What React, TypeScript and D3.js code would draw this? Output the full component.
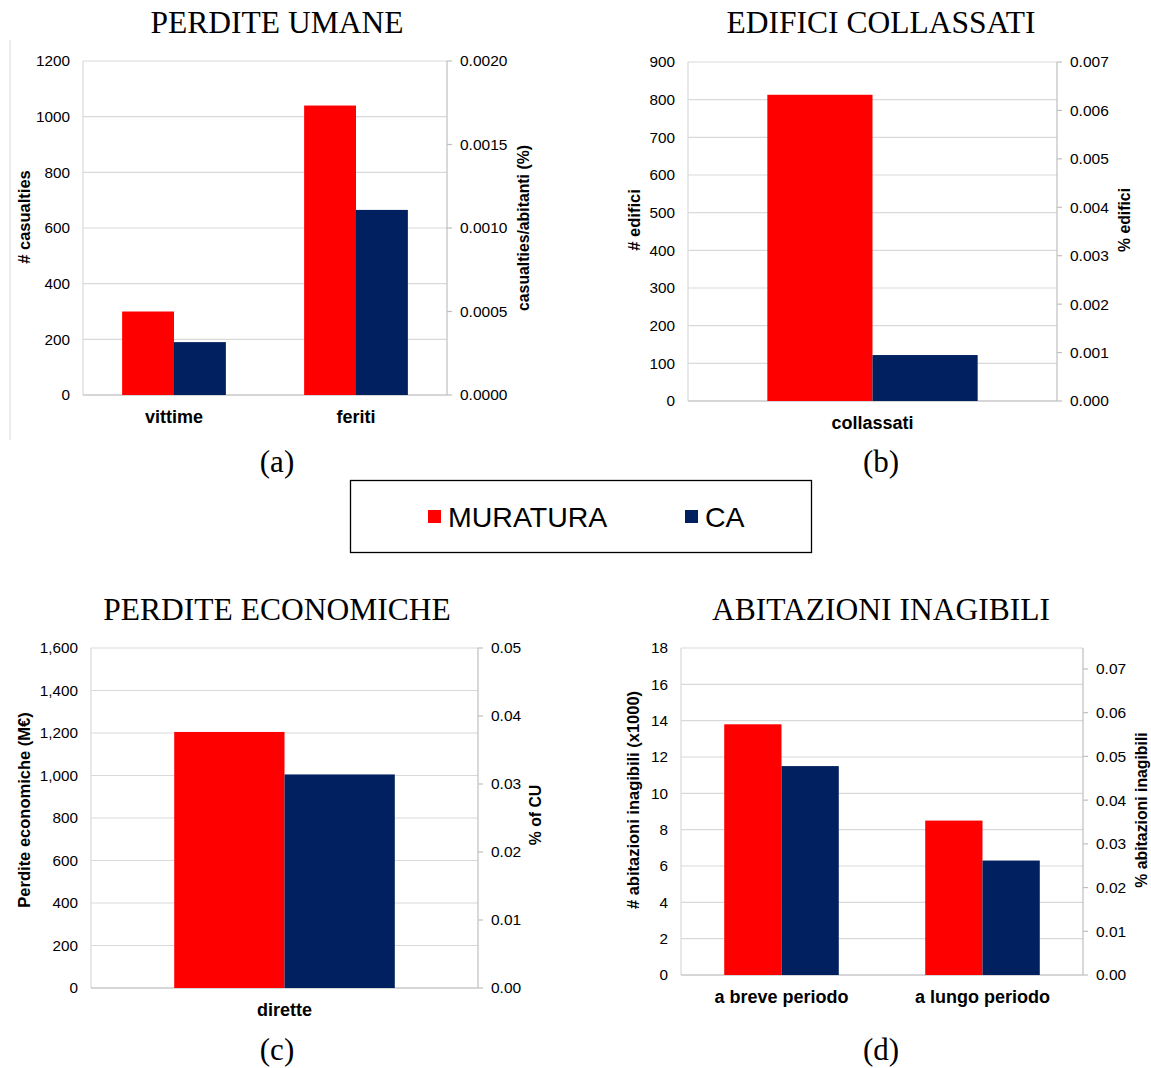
import React from "react";
import * as d3 from "d3";

// ---------- DATA ----------
const seriesNames = ["MURATURA", "CA"];
const seriesColors = ["#ff0000", "#002060"];

const umaneCategories = ["vittime", "feriti"];
const umaneMuratura = [300, 1040];
const umaneCA = [190, 665];
const umaneLeftTicks = [0, 200, 400, 600, 800, 1000, 1200];
const umaneRightTicks = [0, 0.0005, 0.001, 0.0015, 0.002];

const edificiCategories = ["collassati"];
const edificiMuratura = [813];
const edificiCA = [122];
const edificiLeftTicks = [0, 100, 200, 300, 400, 500, 600, 700, 800, 900];
const edificiRightTicks = [0, 0.001, 0.002, 0.003, 0.004, 0.005, 0.006, 0.007];

const economicheCategories = ["dirette"];
const economicheMuratura = [1205];
const economicheCA = [1005];
const economicheLeftTicks = [0, 200, 400, 600, 800, 1000, 1200, 1400, 1600];
const economicheRightTicks = [0, 0.01, 0.02, 0.03, 0.04, 0.05];

const abitazioniCategories = ["a breve periodo", "a lungo periodo"];
const abitazioniMuratura = [13.8, 8.5];
const abitazioniCA = [11.5, 6.3];
const abitazioniLeftTicks = [0, 2, 4, 6, 8, 10, 12, 14, 16, 18];
const abitazioniRightTicks = [0, 0.01, 0.02, 0.03, 0.04, 0.05, 0.06, 0.07];
const abitazioniRightMax = 0.0748;

// ---------- PANEL ----------
type PanelProps = {
  title: string;
  caption: string;
  cx: number;
  titleY: number;
  captionY: number;
  left: number;
  right: number;
  top: number;
  bottom: number;
  categories: string[];
  series: number[][];
  leftTicks: number[];
  rightTicks: number[];
  rightMax: number;
  leftFormat: (n: number) => string;
  rightFormat: (n: number) => string;
  leftTitle: string;
  leftTitleX: number;
  leftTitleY: number;
  rightTitle: string;
  rightTitleX: number;
  rightTitleY: number;
};

const SANS = "'Liberation Sans', Arial, sans-serif";
const SERIF = "'Liberation Serif', 'Times New Roman', serif";

function Panel(p: PanelProps) {
  const yL = d3
    .scaleLinear()
    .domain([0, p.leftTicks[p.leftTicks.length - 1]])
    .range([p.bottom, p.top]);
  const yR = d3.scaleLinear().domain([0, p.rightMax]).range([p.bottom, p.top]);
  const x0 = d3
    .scaleBand<string>()
    .domain(p.categories)
    .range([p.left, p.right])
    .paddingInner(0.43)
    .paddingOuter(0.215);
  const x1 = d3
    .scaleBand<string>()
    .domain(seriesNames)
    .range([0, x0.bandwidth()])
    .padding(0);

  return (
    <g>
      <text
        x={p.cx}
        y={p.titleY}
        textAnchor="middle"
        fontFamily={SERIF}
        fontSize={31.5}
        fill="#000"
      >
        {p.title}
      </text>
      {/* gridlines */}
      {p.leftTicks.map((t) => (
        <line
          key={"g" + t}
          x1={p.left}
          x2={p.right}
          y1={yL(t)}
          y2={yL(t)}
          stroke="#d9d9d9"
          strokeWidth={1.2}
        />
      ))}
      {/* axis lines */}
      <line x1={p.left} x2={p.left} y1={p.top} y2={p.bottom} stroke="#d9d9d9" strokeWidth={1.2} />
      <line x1={p.right} x2={p.right} y1={p.top} y2={p.bottom} stroke="#bfbfbf" strokeWidth={1.2} />
      <line x1={p.left} x2={p.right} y1={p.bottom} y2={p.bottom} stroke="#bfbfbf" strokeWidth={1.2} />
      {/* bars */}
      {p.categories.map((c, ci) => (
        <g key={c} transform={`translate(${x0(c)},0)`}>
          {seriesNames.map((s, si) => (
            <rect
              key={s}
              x={x1(s)}
              y={yL(p.series[si][ci])}
              width={x1.bandwidth()}
              height={p.bottom - yL(p.series[si][ci])}
              fill={seriesColors[si]}
            />
          ))}
        </g>
      ))}
      {/* left tick labels */}
      {p.leftTicks.map((t) => (
        <text
          key={"l" + t}
          x={p.left - 13}
          y={yL(t)}
          dy="0.35em"
          textAnchor="end"
          fontFamily={SANS}
          fontSize={15.3}
          fill="#000"
        >
          {p.leftFormat(t)}
        </text>
      ))}
      {/* right ticks */}
      {p.rightTicks.map((t) => (
        <g key={"r" + t}>
          <line
            x1={p.right}
            x2={p.right + 5}
            y1={yR(t)}
            y2={yR(t)}
            stroke="#bfbfbf"
            strokeWidth={1.2}
          />
          <text
            x={p.right + 13}
            y={yR(t)}
            dy="0.35em"
            textAnchor="start"
            fontFamily={SANS}
            fontSize={15.5}
            fill="#000"
          >
            {p.rightFormat(t)}
          </text>
        </g>
      ))}
      {/* category labels */}
      {p.categories.map((c) => (
        <text
          key={"c" + c}
          x={(x0(c) as number) + x0.bandwidth() / 2}
          y={p.bottom + 28}
          textAnchor="middle"
          fontFamily={SANS}
          fontWeight="bold"
          fontSize={18}
          fill="#000"
        >
          {c}
        </text>
      ))}
      {/* axis titles */}
      <text
        transform={`translate(${p.leftTitleX},${p.leftTitleY}) rotate(-90)`}
        textAnchor="middle"
        dy="0.35em"
        fontFamily={SANS}
        fontWeight="bold"
        fontSize={16.5}
        fill="#000"
      >
        {p.leftTitle}
      </text>
      <text
        transform={`translate(${p.rightTitleX},${p.rightTitleY}) rotate(-90)`}
        textAnchor="middle"
        dy="0.35em"
        fontFamily={SANS}
        fontWeight="bold"
        fontSize={15.8}
        fill="#000"
      >
        {p.rightTitle}
      </text>
      <text
        x={p.cx}
        y={p.captionY}
        textAnchor="middle"
        fontFamily={SERIF}
        fontSize={31}
        fill="#000"
      >
        {p.caption}
      </text>
    </g>
  );
}

export default function App() {
  const plain = d3.format("d");
  const comma = d3.format(",");
  return (
    <svg
      width={1151}
      height={1068}
      style={{ position: "absolute", left: 0, top: 0, background: "#fff" }}
    >
      <rect x={0} y={0} width={1151} height={1068} fill="#fff" />
      <line x1={10} x2={10} y1={40} y2={440} stroke="#d9d9d9" strokeWidth={1} />
      <Panel
        title="PERDITE UMANE"
        caption="(a)"
        cx={277}
        titleY={33}
        captionY={472}
        left={83}
        right={447}
        top={61}
        bottom={395}
        categories={umaneCategories}
        series={[umaneMuratura, umaneCA]}
        leftTicks={umaneLeftTicks}
        rightTicks={umaneRightTicks}
        rightMax={0.002}
        leftFormat={plain}
        rightFormat={d3.format(".4f")}
        leftTitle="# casualties"
        leftTitleX={24}
        leftTitleY={217}
        rightTitle="casualties/abitanti (%)"
        rightTitleX={523}
        rightTitleY={228}
      />
      <Panel
        title="EDIFICI COLLASSATI"
        caption="(b)"
        cx={881}
        titleY={33}
        captionY={472}
        left={688}
        right={1057}
        top={62}
        bottom={401}
        categories={edificiCategories}
        series={[edificiMuratura, edificiCA]}
        leftTicks={edificiLeftTicks}
        rightTicks={edificiRightTicks}
        rightMax={0.007}
        leftFormat={plain}
        rightFormat={d3.format(".3f")}
        leftTitle="# edifici"
        leftTitleX={634}
        leftTitleY={220}
        rightTitle="% edifici"
        rightTitleX={1124}
        rightTitleY={220}
      />
      <Panel
        title="PERDITE ECONOMICHE"
        caption="(c)"
        cx={277}
        titleY={620}
        captionY={1060}
        left={91}
        right={478}
        top={648}
        bottom={988}
        categories={economicheCategories}
        series={[economicheMuratura, economicheCA]}
        leftTicks={economicheLeftTicks}
        rightTicks={economicheRightTicks}
        rightMax={0.05}
        leftFormat={comma}
        rightFormat={d3.format(".2f")}
        leftTitle="Perdite economiche (M€)"
        leftTitleX={24}
        leftTitleY={810}
        rightTitle="% of CU"
        rightTitleX={535}
        rightTitleY={815}
      />
      <Panel
        title="ABITAZIONI INAGIBILI"
        caption="(d)"
        cx={881}
        titleY={620}
        captionY={1060}
        left={681}
        right={1083}
        top={648}
        bottom={975}
        categories={abitazioniCategories}
        series={[abitazioniMuratura, abitazioniCA]}
        leftTicks={abitazioniLeftTicks}
        rightTicks={abitazioniRightTicks}
        rightMax={abitazioniRightMax}
        leftFormat={plain}
        rightFormat={d3.format(".2f")}
        leftTitle="# abitazioni inagibili (x1000)"
        leftTitleX={633}
        leftTitleY={800}
        rightTitle="% abitazioni inagibili"
        rightTitleX={1141}
        rightTitleY={810}
      />
      {/* legend */}
      <g>
        <rect x={350.5} y={480.5} width={461} height={72} fill="#fff" stroke="#000" strokeWidth={1.3} />
        {seriesNames.map((s, i) => {
          const lx = [428, 685][i];
          return (
            <g key={s}>
              <rect x={lx} y={510} width={13} height={13} fill={seriesColors[i]} />
              <text x={lx + 20} y={527} fontFamily={SANS} fontSize={28.5} fill="#000">
                {s}
              </text>
            </g>
          );
        })}
      </g>
    </svg>
  );
}
